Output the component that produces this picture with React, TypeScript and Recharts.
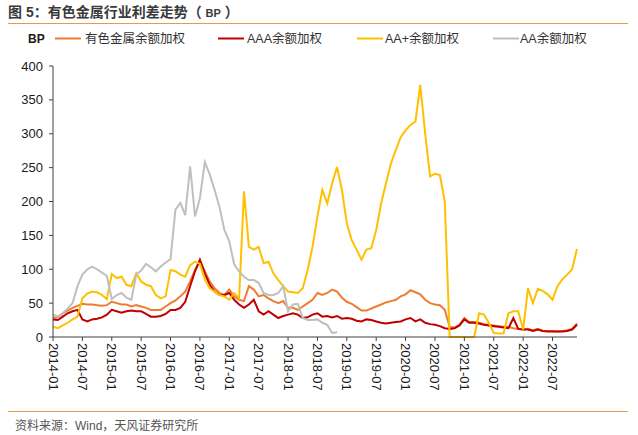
import React from "react"
import { LineChart, Line, XAxis, YAxis } from "recharts"

// monthly, 2014-01 .. 2022-12
const startYear = 2014
const months: string[] = []
for (let y = startYear; y <= 2022; y++) {
  for (let m = 1; m <= 12; m++) months.push(`${y}-${String(m).padStart(2, "0")}`)
}

const tickLabels = [
  "2014-01", "2014-07", "2015-01", "2015-07", "2016-01", "2016-07", "2017-01", "2017-07", "2018-01",
  "2018-07", "2019-01", "2019-07", "2020-01", "2020-07", "2021-01", "2021-07", "2022-01", "2022-07",
]
const yTicks = [0, 50, 100, 150, 200, 250, 300, 350, 400]

// 有色金属余额加权
const metals = [
  28, 29, 35, 39, 43, 46, 49, 48, 48, 47, 46, 47,
  52, 50, 48, 48, 45, 47, 45, 43, 40, 40, 40, 45,
  50, 54, 60, 67, 82, 99, 113, 97, 82, 72, 65, 62,
  70, 60, 55, 53, 75, 70, 60, 62, 57, 53, 50, 53,
  43, 43, 40, 45, 50, 55, 65, 62, 65, 70, 67, 58,
  52, 49, 44, 39, 39, 42, 45, 48, 51, 53, 55, 60,
  63, 69, 66, 63, 55, 50, 48, 47, 40, 15, 14, 18,
  28, 22, 22, 21, 19, 18, 17, 16, 15, 15, 13, 12,
  11, 12, 10, 12, 9, 9, 9, 8, 9, 10, 12, 20,
]
// AAA余额加权
const aaa = [
  26, 25, 30, 35, 38, 40, 26, 23, 26, 27, 29, 33,
  40, 38, 36, 38, 39, 38, 38, 34, 30, 30, 31, 34,
  40, 40, 43, 52, 75, 97, 114, 94, 77, 67, 62, 62,
  65, 55, 48, 43, 48, 55, 38, 33, 38, 33, 28, 31,
  33, 35, 33, 28, 29, 33, 35, 30, 31, 29, 31, 27,
  28, 27, 24, 23, 26, 25, 23, 21, 20, 21, 22, 23,
  26, 28, 23, 26, 21, 19, 18, 16, 13, 12, 13, 17,
  26, 21, 21, 20, 18, 17, 16, 15, 14, 13, 28, 12,
  11, 11, 9, 11, 9, 8, 8, 8, 8, 9, 11, 18,
]
// AA+余额加权
const aaPlus = [
  15, 13, 17, 21, 26, 30, 57, 64, 67, 66, 62, 56,
  93, 87, 89, 77, 75, 94, 82, 77, 75, 62, 57, 60,
  99, 97, 92, 89, 106, 111, 108, 85, 72, 67, 62, 60,
  55, 65, 57, 215, 133, 129, 133, 109, 111, 94, 84, 75,
  67, 66, 65, 72, 99, 133, 178, 217, 197, 227, 251, 217,
  168, 143, 129, 114, 129, 131, 158, 197, 227, 256, 276, 295,
  305, 313, 318, 372, 300, 237, 241, 239, 200, 0, 0, 0,
  0, 0, 0, 35, 33, 21, 6, 5, 5, 35, 38, 38,
  11, 72, 50, 71, 68, 63, 55, 75, 85, 92, 100, 130,
]
// AA余额加权 (ends 2018-11)
const aa = [
  33, 30, 35, 42, 50, 75, 92, 100, 104, 100, 95, 90,
  56, 62, 65, 58, 55, 92, 98, 108, 103, 97, 104, 110,
  115, 188, 198, 180, 252, 178, 205, 258, 240, 217, 192, 158,
  141, 107, 97, 89, 84, 84, 80, 65, 62, 62, 65, 75,
  38, 48, 49, 28, 25, 25, 26, 21, 18, 6, 7,
]

const seriesNames = ["有色金属余额加权", "AAA余额加权", "AA+余额加权", "AA余额加权"]
const colors = ["#ED7D31", "#C00000", "#FFC000", "#BFBFBF"]

const data = months.map((month, i) => ({
  month,
  metals: metals[i],
  aaa: aaa[i],
  aaPlus: aaPlus[i],
  aa: i < aa.length ? aa[i] : null,
}))

const numFont = "'Liberation Sans', Arial, sans-serif"
const cjkFont = "'Liberation Sans', Arial, 'Noto Sans CJK SC', sans-serif"

const XTick = (props: any) => {
  const { x, y, payload } = props
  if (!tickLabels.includes(payload.value)) return null
  return (
    <text
      x={0}
      y={0}
      transform={`translate(${x - 4.5},${y}) rotate(90)`}
      textAnchor="start"
      fontSize={13}
      fontFamily={numFont}
      fill="#1a1a1a"
    >
      {payload.value}
    </text>
  )
}

const legendItems = [
  { x: 55, tx: 85 },
  { x: 218, tx: 247 },
  { x: 357, tx: 385 },
  { x: 493, tx: 520 },
]

export default function App() {
  return (
    <div style={{ position: "absolute", left: 0, top: 0, width: 638, height: 435, background: "#fff" }}>
      <svg width={638} height={435} style={{ position: "absolute", left: 0, top: 0 }}>
        <text x={8} y={17} fontSize={14} fontWeight="bold" fill="#3a3a3a" fontFamily={cjkFont}>
          图 5：有色金属行业利差走势（ <tspan fontSize={11}>BP</tspan> ）
        </text>
        <line x1={8} x2={628} y1={23.5} y2={23.5} stroke="#E59B4C" strokeWidth={1.2} />
        <text x={28} y={43} fontSize={12} fontWeight="bold" fill="#1a1a1a" fontFamily={numFont}>BP</text>
        {legendItems.map((it, i) => (
          <g key={i}>
            <line x1={it.x} x2={it.x + 26} y1={38.5} y2={38.5} stroke={colors[i]} strokeWidth={2} />
            <text x={it.tx} y={43} fontSize={12.5} fill="#333" fontFamily={cjkFont}>{seriesNames[i]}</text>
          </g>
        ))}
        <line x1={8} x2={628} y1={411.5} y2={411.5} stroke="#E59B4C" strokeWidth={1.2} />
        <text x={15} y={430} fontSize={12} fill="#555" fontFamily={cjkFont}>资料来源：Wind，天风证券研究所</text>
      </svg>
      <div style={{ position: "absolute", left: 0, top: 0 }}>
        <LineChart width={638} height={435} data={data} margin={{ top: 66, right: 61, bottom: 0, left: 0 }}>
          <XAxis
            dataKey="month"
            interval={5}
            tick={<XTick />}
            tickSize={4}
            tickMargin={2}
            tickLine={{ stroke: "#404040" }}
            axisLine={{ stroke: "#404040" }}
            height={98}
          />
          <YAxis
            domain={[0, 400]}
            ticks={yTicks}
            width={53}
            tickSize={4}
            tickMargin={6}
            axisLine={{ stroke: "#404040" }}
            tickLine={{ stroke: "#404040" }}
            tick={{ fontSize: 13, fill: "#1a1a1a", fontFamily: numFont }}
          />
          <Line dataKey="metals" stroke={colors[0]} strokeWidth={2} dot={false} isAnimationActive={false} />
          <Line dataKey="aaa" stroke={colors[1]} strokeWidth={2} dot={false} isAnimationActive={false} />
          <Line dataKey="aaPlus" stroke={colors[2]} strokeWidth={2} dot={false} isAnimationActive={false} />
          <Line dataKey="aa" stroke={colors[3]} strokeWidth={2} dot={false} isAnimationActive={false} />
        </LineChart>
      </div>
    </div>
  )
}
